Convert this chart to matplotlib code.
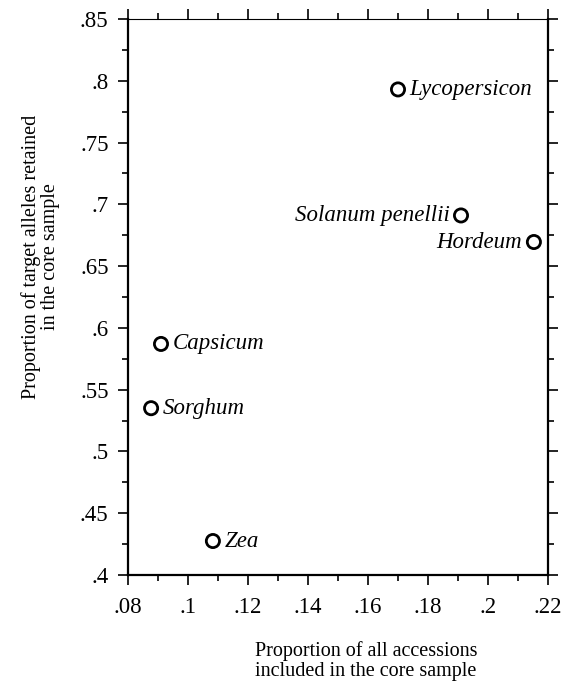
import matplotlib
matplotlib.use("Agg")
import matplotlib.pyplot as plt
from matplotlib.ticker import FuncFormatter, MultipleLocator

plt.rcParams["font.family"] = "Liberation Serif"

species = ["Lycopersicon", "Solanum penellii", "Hordeum", "Capsicum", "Sorghum", "Zea"]
prop_accessions = [0.170, 0.191, 0.2153, 0.091, 0.0877, 0.1083]
prop_alleles = [0.793, 0.691, 0.6695, 0.587, 0.535, 0.4275]
label_side = ["right", "left", "left", "right", "right", "right"]


def no_zero(v, pos=None):
    s = f"{v:.2f}".rstrip("0")
    if s.startswith("0"):
        s = s[1:]
    return s


fig = plt.figure(figsize=(5.64, 6.9), dpi=100)
ax = fig.add_axes([128 / 564, 1 - 575 / 690, 420 / 564, 556 / 690])

ax.scatter(prop_accessions, prop_alleles, s=90, facecolors="none",
           edgecolors="black", linewidths=2, zorder=3)

for name, x, y, side in zip(species, prop_accessions, prop_alleles, label_side):
    off = 8.3 if side == "right" else -8.3
    ha = "left" if side == "right" else "right"
    ax.annotate(name, (x, y), xytext=(off, 0), textcoords="offset points",
                ha=ha, va="center", style="italic", fontsize=16.5)

ax.set_xlim(0.08, 0.22)
ax.set_ylim(0.4, 0.85)
ax.xaxis.set_major_locator(MultipleLocator(0.02))
ax.xaxis.set_minor_locator(MultipleLocator(0.01))
ax.yaxis.set_major_locator(MultipleLocator(0.05))
ax.yaxis.set_minor_locator(MultipleLocator(0.025))
ax.xaxis.set_major_formatter(FuncFormatter(no_zero))
ax.yaxis.set_major_formatter(FuncFormatter(no_zero))

ax.tick_params(which="both", direction="out", top=True, right=True,
               labelsize=16.5, width=1.2)
ax.tick_params(which="major", length=7, pad=7)
ax.tick_params(axis="x", which="major", pad=9)
ax.tick_params(which="minor", length=4)
for side in ["left", "bottom", "right"]:
    ax.spines[side].set_linewidth(1.6)
ax.spines["top"].set_linewidth(0.8)

ax.set_xlabel("Proportion of all accessions\nincluded in the core sample",
              fontsize=14.5, linespacing=1.1, multialignment="center")
ax.xaxis.set_label_coords(0.567, -0.118)
ax.set_ylabel("Proportion of target alleles retained\nin the core sample",
              fontsize=14.5, linespacing=1.0, multialignment="center")
ax.yaxis.set_label_coords(-0.161, 0.572)

fig.savefig("out.png", dpi=100)
